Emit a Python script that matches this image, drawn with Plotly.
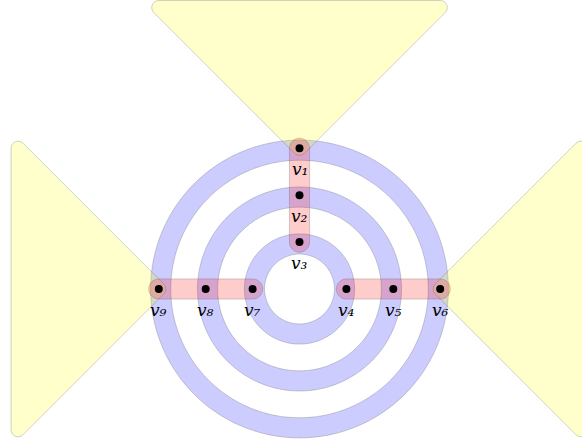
import numpy as np
import plotly.graph_objects as go

# ---- data ----
vertex_names = ["v1", "v2", "v3", "v4", "v5", "v6", "v7", "v8", "v9"]
vertex_labels = ["v₁", "v₂", "v₃", "v₄", "v₅", "v₆", "v₇", "v₈", "v₉"]
vertex_x = [0, 0, 0, 1, 2, 3, -1, -2, -3]
vertex_y = [3, 2, 1, 0, 0, 0, 0, 0, 0]
ring_edges = [["v3", "v4", "v7"], ["v2", "v5", "v8"], ["v1", "v6", "v9"]]
bar_edges = [["v1", "v2", "v3"], ["v4", "v5", "v6"], ["v7", "v8", "v9"]]
wedge_edges = [["v1"], ["v6"], ["v9"]]

pos = {n: np.array([x, y], float) for n, x, y in zip(vertex_names, vertex_x, vertex_y)}

# ---- geometry helpers ----
UNIT = 46.9  # px per data unit
W, H = 582, 444
CX, CY = 299.5, 289.0


def rounded_hull(points, pad, n_arc=24):
    pts = np.array(points, float)
    if len(pts) >= 3:
        a = 0.0
        for i in range(len(pts)):
            x1, y1 = pts[i]
            x2, y2 = pts[(i + 1) % len(pts)]
            a += x1 * y2 - x2 * y1
        if a < 0:
            pts = pts[::-1]
    n = len(pts)
    out = []
    for i in range(n):
        p = pts[i]
        prev = pts[i - 1]
        nxt = pts[(i + 1) % n]
        d1 = p - prev
        d2 = nxt - p
        n1 = np.array([d1[1], -d1[0]]) / np.linalg.norm(d1)
        n2 = np.array([d2[1], -d2[0]]) / np.linalg.norm(d2)
        a1 = np.arctan2(n1[1], n1[0])
        a2 = np.arctan2(n2[1], n2[0])
        da = (a2 - a1) % (2 * np.pi)
        if da > 2 * np.pi - 1e-9:
            da = 0
        k = max(2, int(n_arc * da / np.pi) + 2)
        for t in np.linspace(a1, a1 + da, k):
            out.append(p + pad * np.array([np.cos(t), np.sin(t)]))
    return out


def path_from(pts_list):
    s = ""
    for pts in pts_list:
        s += "M" + " L".join(f"{x:.4f},{y:.4f}" for x, y in pts) + " Z "
    return s


def circle_pts(r, ccw=True, n=240):
    t = np.linspace(0, 2 * np.pi, n, endpoint=False)
    if not ccw:
        t = t[::-1]
    return [(r * np.cos(a), r * np.sin(a)) for a in t]


shapes = []
edge_line = dict(color="rgba(90,90,90,0.28)", width=1)

# rings (blue)
for e in ring_edges:
    r = np.mean([np.linalg.norm(pos[v]) for v in e]) - 0.04
    outer = circle_pts(r + 0.215, True)
    inner = circle_pts(r - 0.215, False)
    shapes.append(dict(type="path", xref="x", yref="y", path=path_from([outer, inner]),
                       fillcolor="rgba(0,0,255,0.2)", line=edge_line, layer="below"))

# wedges (yellow)
for e in wedge_edges:
    p = pos[e[0]]
    perp = np.array([-p[1], p[0]])
    tri = [p, 2 * p + perp, 2 * p - perp]
    shapes.append(dict(type="path", xref="x", yref="y", path=path_from([rounded_hull(tri, 0.15)]),
                       fillcolor="rgba(255,255,0,0.2)", line=edge_line, layer="below"))

# bars (pink)
for e in bar_edges:
    ends = [pos[e[0]], pos[e[-1]]]
    shapes.append(dict(type="path", xref="x", yref="y", path=path_from([rounded_hull(ends, 0.215)]),
                       fillcolor="rgba(255,0,0,0.2)", line=edge_line, layer="below"))

fig = go.Figure()
fig.add_trace(go.Scatter(x=vertex_x, y=vertex_y, mode="markers",
                         marker=dict(color="black", size=8, line=dict(width=0)),
                         hoverinfo="text", text=vertex_names, showlegend=False))

annotations = []
for lab, x, y in zip(vertex_labels, vertex_x, vertex_y):
    annotations.append(dict(x=x, y=y, xref="x", yref="y", showarrow=False,
                            text=lab, yshift=-21,
                            font=dict(family="DejaVu Serif", size=17, color="black",
                                      style="italic")))

fig.update_layout(
    width=W, height=H, margin=dict(l=0, r=0, t=0, b=0),
    paper_bgcolor="white", plot_bgcolor="white",
    shapes=shapes, annotations=annotations, showlegend=False,
    xaxis=dict(range=[-CX / UNIT, (W - CX) / UNIT], visible=False, showgrid=False, zeroline=False),
    yaxis=dict(range=[-(H - CY) / UNIT, CY / UNIT], visible=False, showgrid=False, zeroline=False),
)
fig.write_html("out.html", config={"displayModeBar": False},
               post_script="document.body.style.margin='0';document.body.style.overflow='hidden';")
